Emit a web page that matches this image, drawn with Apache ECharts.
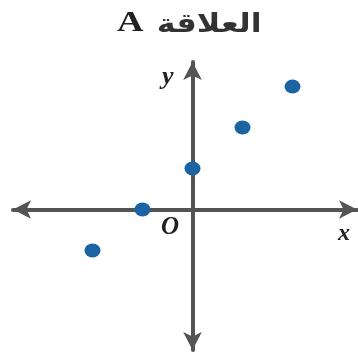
<!DOCTYPE html>
<html>
<head>
<meta charset="utf-8">
<script src="https://cdn.jsdelivr.net/npm/echarts@6/dist/echarts.min.js"></script>
<style>html,body{margin:0;padding:0;background:#fff}#c{width:358px;height:354px}</style>
</head>
<body>
<div id="c"></div>
<script>
const titleLetter = 'A';
const titleWord = 'العلاقة';
const xValues = [-2, -1, 0, 1, 2];
const yValues = [-1, 0, 1, 2, 3];
const xName = 'x';
const yName = 'y';
const originLabel = 'O';

const chart = echarts.init(document.getElementById('c'));
const axisColor = '#535456';
chart.setOption({
  animation: false,
  grid: { left: 13, right: 1, top: 62, bottom: 4 },
  xAxis: {
    type: 'value', min: -3.59, max: 3.29,
    axisLine: { onZero: true, lineStyle: { color: axisColor, width: 4 }, symbol: ['arrow', 'arrow'], symbolSize: [14, 18] },
    axisTick: { show: false }, axisLabel: { show: false }, splitLine: { show: false }
  },
  yAxis: {
    type: 'value', min: -3.43, max: 3.6,
    axisLine: { onZero: true, lineStyle: { color: axisColor, width: 4 }, symbol: ['arrow', 'arrow'], symbolSize: [14, 18] },
    axisTick: { show: false }, axisLabel: { show: false }, splitLine: { show: false }
  },
  graphic: [
    {
      type: 'text', x: 117, y: 8, scaleX: 1.22,
      style: {
        text: '{a|' + titleLetter + '}{b|' + titleWord + '}',
        rich: {
          a: { fontFamily: 'Liberation Serif', fontWeight: 'bold', fontSize: 30, fill: '#222', verticalAlign: 'bottom' },
          b: { fontFamily: 'DejaVu Sans', fontWeight: 'bold', fontSize: 26, fill: '#333', verticalAlign: 'bottom', padding: [0, 0, 0, 11] }
        }
      }
    },
    { type: 'text', left: 338, top: 222, style: { text: xName, font: 'italic bold 24px "Liberation Serif"', fill: '#222' } },
    { type: 'text', left: 162, top: 64, style: { text: yName, font: 'italic bold 26px "Liberation Serif"', fill: '#222' } },
    { type: 'text', left: 161, top: 215, style: { text: originLabel, font: 'italic bold 25px "Liberation Serif"', fill: '#222' } }
  ],
  series: [{
    type: 'scatter',
    data: xValues.map((x, i) => [x, yValues[i]]),
    symbolSize: [16, 14],
    itemStyle: { color: '#1a64a4', opacity: 1 }
  }]
});
</script>
</body>
</html>
